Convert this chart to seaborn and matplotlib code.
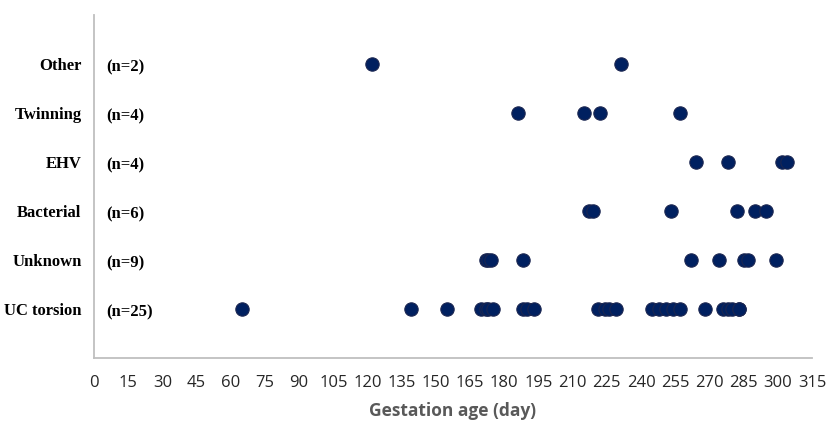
import matplotlib
matplotlib.use("Agg")
import matplotlib.pyplot as plt
import matplotlib.transforms as mtransforms
import seaborn as sns
import pandas as pd

categories = ["Other", "Twinning", "EHV", "Bacterial", "Unknown", "UC torsion"]
n_labels = ["(n=2)", "(n=4)", "(n=4)", "(n=6)", "(n=9)", "(n=25)"]

other = [122, 231]
twinning = [186, 215, 222, 257]
ehv = [264, 278, 302, 304]
bacterial = [217, 219, 253, 282, 290, 295]
unknown = [172, 173, 174, 188, 262, 274, 285, 287, 299]
uc_torsion = [65, 139, 155, 170, 172, 173, 175, 188, 190, 193,
              221, 224, 226, 229, 245, 248, 251, 254, 257,
              268, 276, 278, 280, 283, 283]

x_ticks = list(range(0, 316, 15))

series = [other, twinning, ehv, bacterial, unknown, uc_torsion]
rows = []
for cat, vals in zip(categories, series):
    for v in vals:
        rows.append({"cause": cat, "day": v})
df = pd.DataFrame(rows)

sns.set_style("white")

fig = plt.figure(figsize=(8.29, 4.26), dpi=100)
ax = fig.add_axes([94 / 829, 1 - 358 / 426, (812 - 94) / 829, (358 - 15) / 426])

sns.stripplot(data=df, x="day", y="cause", order=categories, jitter=False,
              color="#002060", size=9.6, linewidth=0.8, edgecolor="#1a2550",
              ax=ax, orient="h", zorder=3)

ax.set_xlim(0, 315)
ax.set_ylim(6, -1)
ax.set_xticks(x_ticks)
ax.set_xticklabels([str(t) for t in x_ticks], fontfamily="Open Sans",
                   fontsize=12, color="#262626")
ax.set_yticks(range(len(categories)))
ax.set_yticklabels(categories, fontfamily="Liberation Serif",
                   fontweight="bold", fontsize=12, color="black")
ax.tick_params(axis="x", length=0, pad=12)
ax.tick_params(axis="y", length=0, pad=9)

for side in ["top", "right"]:
    ax.spines[side].set_visible(False)
for side in ["left", "bottom"]:
    ax.spines[side].set_color("#BFBFBF")
    ax.spines[side].set_linewidth(1.3)

ax.set_ylabel("")
ax.set_xlabel("Gestation age (day)", fontfamily="Open Sans", fontweight="bold",
              fontsize=12.5, color="#595959", labelpad=8)

trans = mtransforms.blended_transform_factory(ax.transAxes, ax.transData)
for i, lab in enumerate(n_labels):
    ax.text((106 - 94) / 718, i + 0.06, lab, transform=trans, ha="left",
            va="center", fontfamily="Liberation Serif", fontweight="bold",
            fontsize=12, color="black")

fig.savefig("out.png", dpi=100)
